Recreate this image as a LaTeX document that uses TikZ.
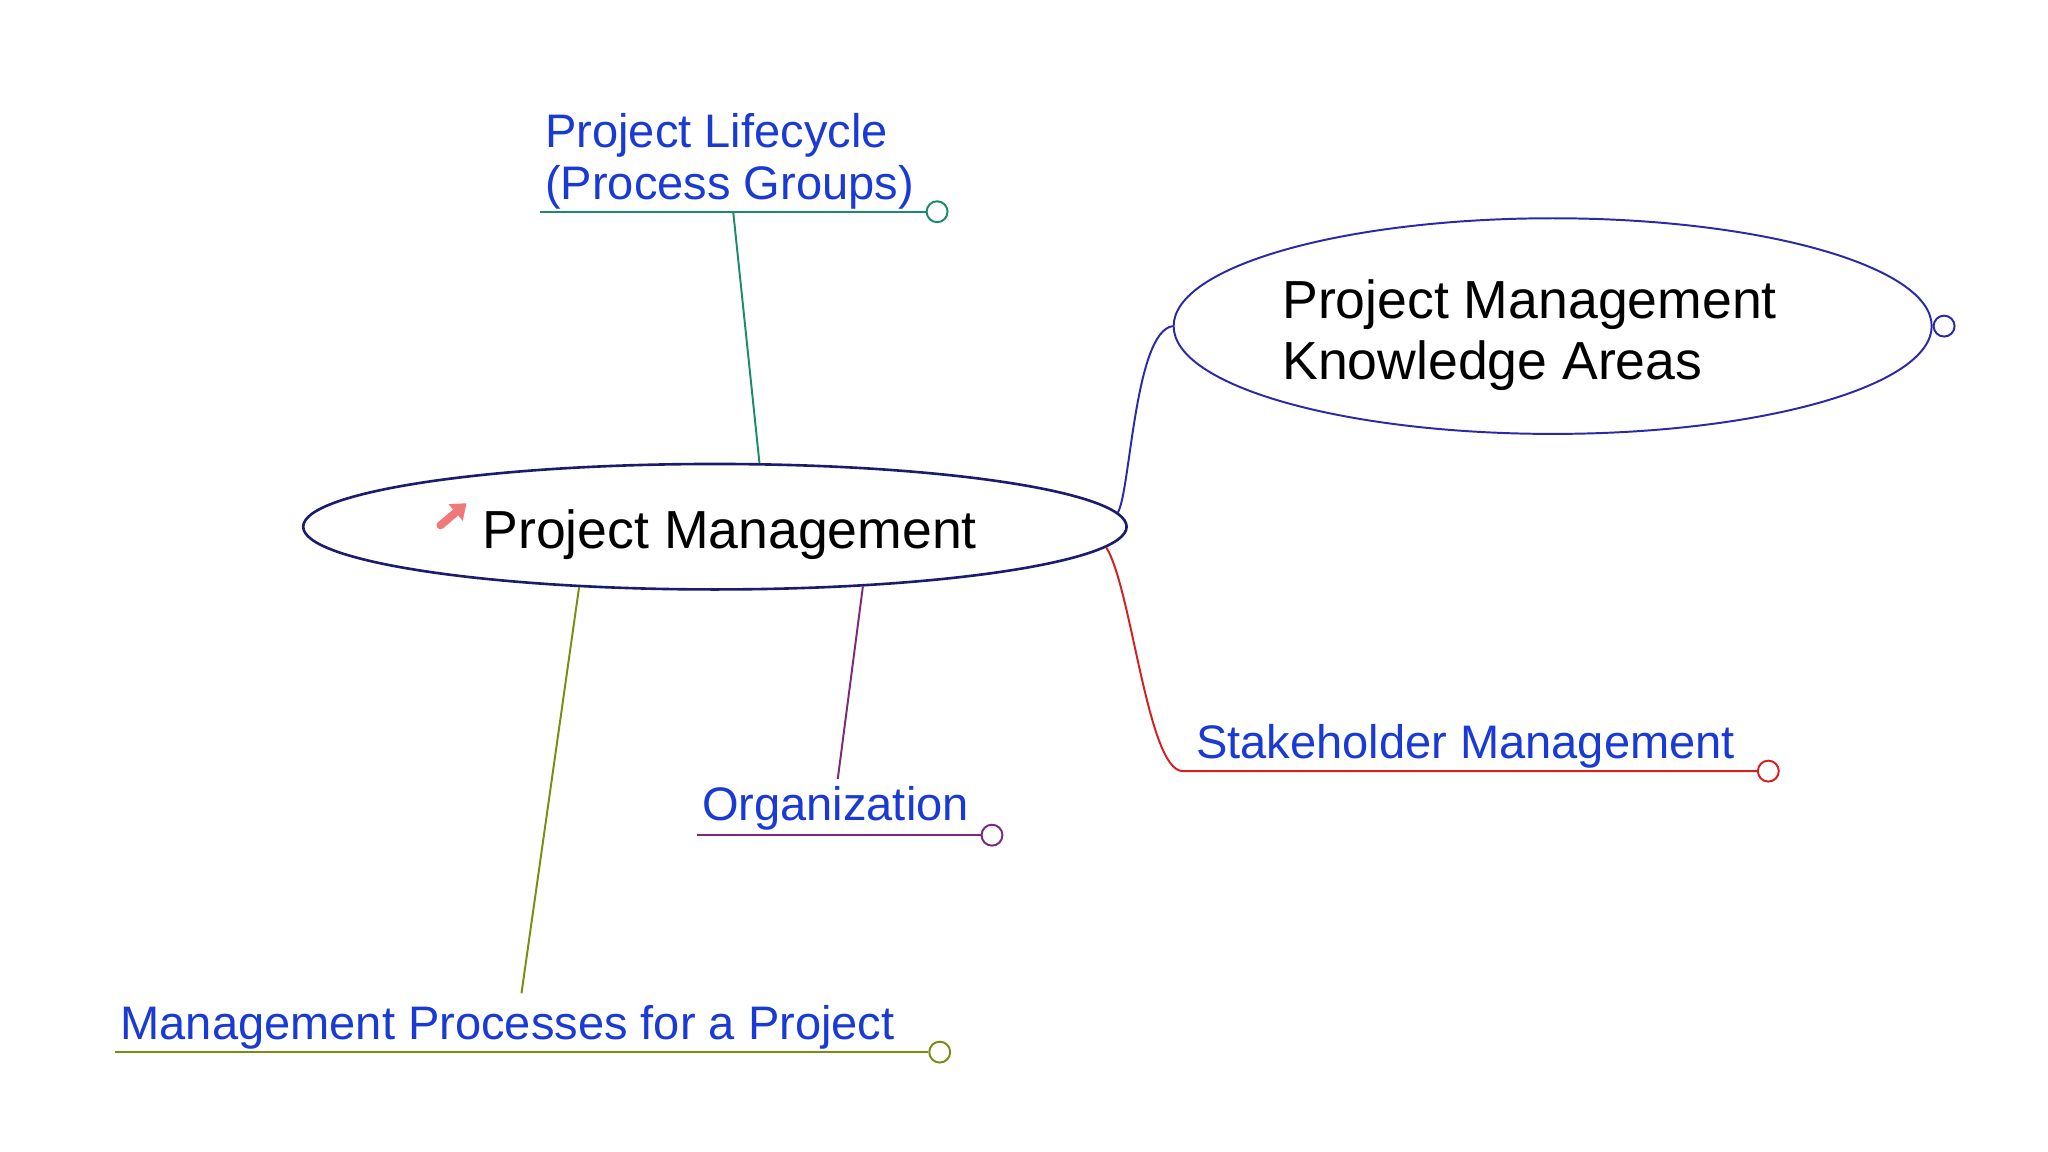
\documentclass[tikz,border=0pt]{standalone}
\usepackage{fontspec}
\setmainfont{Liberation Sans}
\usetikzlibrary{shapes.geometric,arrows.meta}
\definecolor{navy}{HTML}{1C1C6E}
\definecolor{kablue}{HTML}{2A2AA8}
\definecolor{txtblue}{HTML}{1A3AD6}
\definecolor{teal2}{HTML}{1A8C6C}
\definecolor{red2}{HTML}{D42020}
\definecolor{purple2}{HTML}{7A2A7A}
\definecolor{olive2}{HTML}{7A8C14}
\definecolor{pinkicon}{HTML}{F07878}
\begin{document}
\begin{tikzpicture}[x=1pt,y=-1pt,
  bigtext/.style={font=\fontsize{41}{47}\selectfont, text=black, inner sep=0pt, align=left},
  subtext/.style={font=\fontsize{36}{40}\selectfont, text=txtblue, inner sep=0pt, align=left},
  endcirc/.style={circle, draw, fill=white, line width=1.5pt, minimum size=16pt, inner sep=0pt},
  conn/.style={line width=1.5pt}
]
\useasboundingbox[fill=white] (0,0) rectangle (1567,881.4);

% central topic
\node[ellipse, draw=navy, line width=2pt, minimum width=630pt, minimum height=96pt, inner sep=0pt] (pm) at (547,403) {};
\node[bigtext, anchor=base west] (pmt) at (369,420) {Project Management};
\coordinate (ic1) at (337,402);
\coordinate (ic2) at (357,385);
\draw[pinkicon, line width=6pt, line cap=round, -{Triangle[length=11pt,width=16pt]}] (ic1) -- (ic2);

% knowledge areas
\node[ellipse, draw=kablue, line width=1.5pt, minimum width=580pt, minimum height=165pt, inner sep=0pt] (ka) at (1188,249.5) {};
\node[bigtext, anchor=north west] (kat) at (981,213.5) {Project Management\\Knowledge Areas};
\node[endcirc, draw=kablue, anchor=west] (kac) at (ka.east) {};
\draw[conn, kablue] (pm.2) .. controls (865,376) and (868,254) .. (ka.west);

% project lifecycle
\node[subtext, anchor=north west] (lc) at (417,86.5) {Project Lifecycle\\(Process Groups)};
\node[endcirc, draw=teal2] (lcc) at (717,162) {};
\coordinate (lcs) at (413,162);
\coordinate (lcj) at (561,162);
\draw[conn, teal2] (lcs) -- (lcc.west);
\draw[conn, teal2] (pm.55) -- (lcj);

% stakeholder management
\node[subtext, anchor=base west] (sm) at (915,580) {Stakeholder Management};
\node[endcirc, draw=red2] (smc) at (1353,590) {};
\coordinate (smj) at (905,590);
\draw[conn, red2] (pm.-3) .. controls (866,450) and (878,590) .. (smj) -- (smc.west);

% organization
\node[subtext, anchor=base west] (org) at (537,628) {Organization};
\node[endcirc, draw=purple2] (orgc) at (759,639) {};
\coordinate (orgs) at (533,639);
\coordinate (orgj) at (641,596);
\draw[conn, purple2] (orgs) -- (orgc.west);
\draw[conn, purple2] (pm.-22) -- (orgj);

% management processes
\node[subtext, anchor=base west] (mp) at (92,795) {Management Processes for a Project};
\node[endcirc, draw=olive2] (mpc) at (719,805) {};
\coordinate (mps) at (88,805);
\coordinate (mpj) at (399,760);
\draw[conn, olive2] (mps) -- (mpc.west);
\draw[conn, olive2] (pm.-156) -- (mpj);
\end{tikzpicture}
\end{document}
